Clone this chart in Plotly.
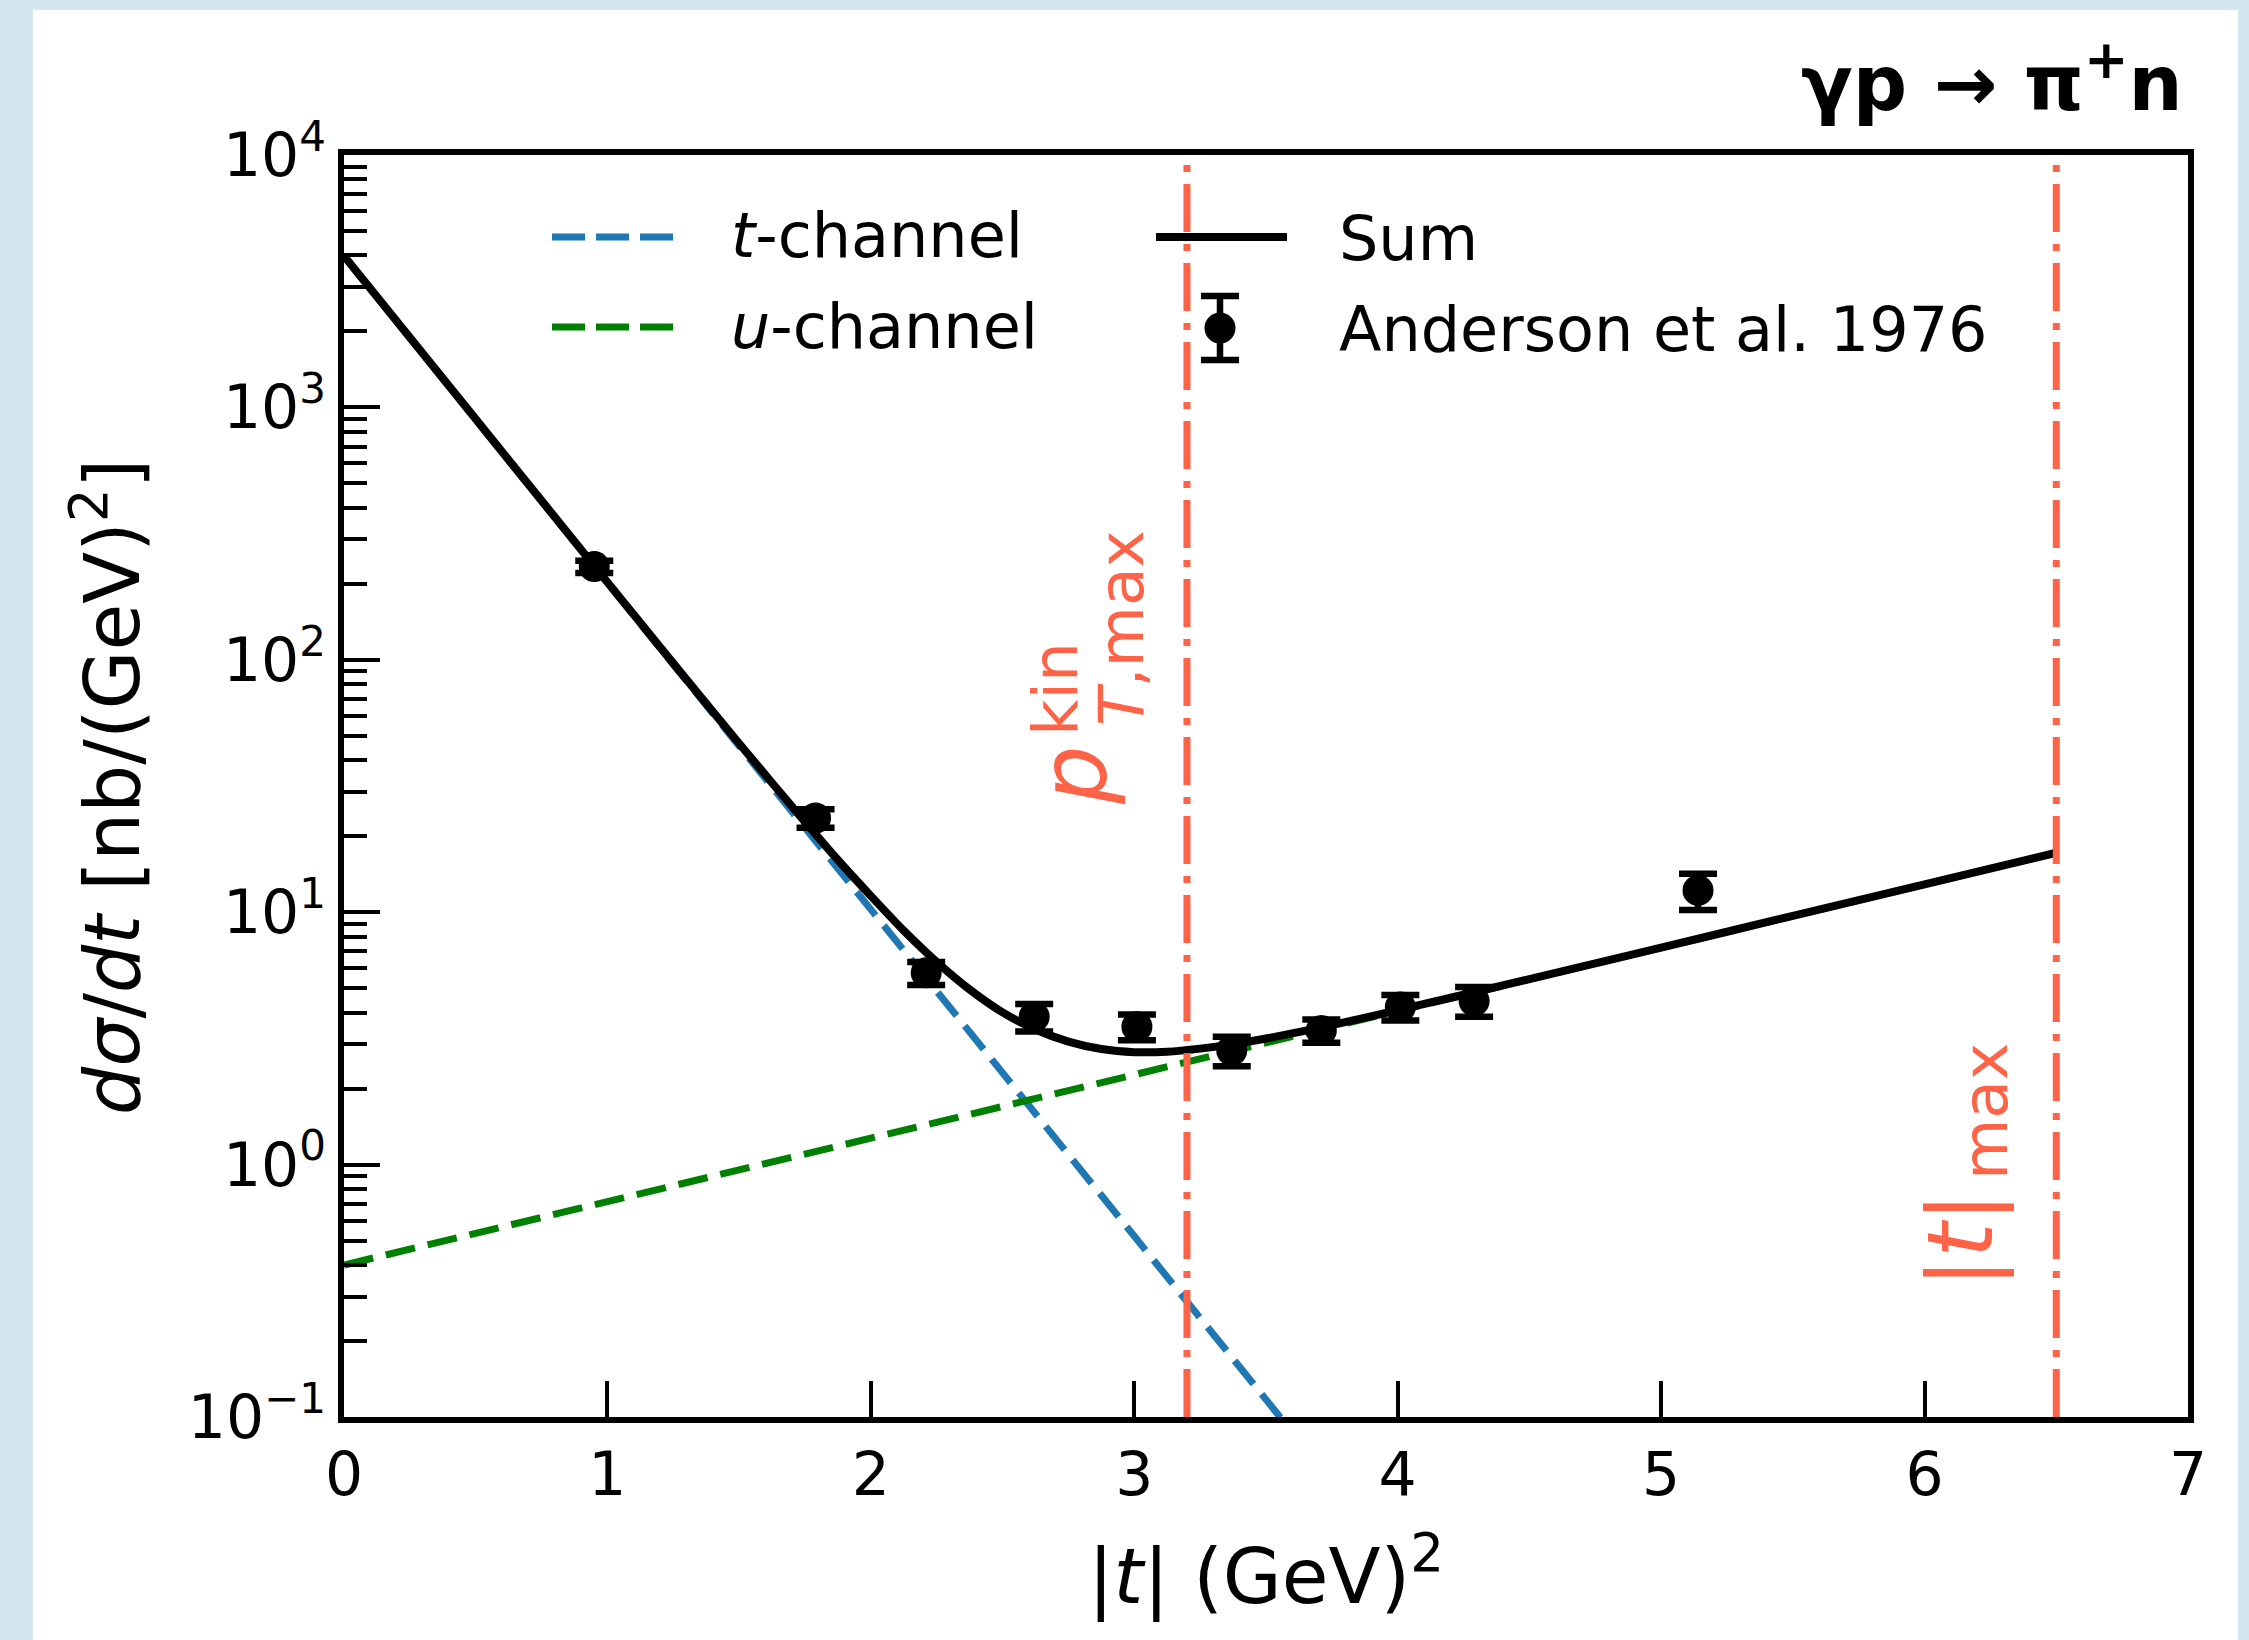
import plotly.graph_objects as go

# ---------------- data ----------------
# Anderson et al. 1976 points
t_data = [0.95, 1.79, 2.21, 2.62, 3.01, 3.37, 3.71, 4.01, 4.29, 5.14]
dsdt_data = [234, 23.6, 5.75, 3.85, 3.52, 2.83, 3.40, 4.21, 4.45, 12.2]
dsdt_err = [13, 2.0, 0.6, 0.48, 0.41, 0.38, 0.36, 0.49, 0.6, 2.0]

# t-channel curve
t_tch = [0, 0.5, 1.0, 1.5, 2.0, 2.5, 3.0, 3.6]
v_tch = [3980, 898, 202, 45.6, 10.3, 2.32, 0.52, 0.087]

# u-channel curve
t_uch = [0, 1, 2, 3, 4, 5, 6, 6.5]
v_uch = [0.40, 0.71, 1.27, 2.27, 4.06, 7.24, 12.9, 17.2]

# Sum curve
t_sum = [0, 0.5, 1.0, 1.25, 1.5, 1.75, 1.875, 2.0, 2.125, 2.25, 2.375, 2.5,
         2.625, 2.75, 2.875, 3.0, 3.125, 3.25, 3.375, 3.5, 3.75, 4.0, 4.5,
         5.0, 5.5, 6.0, 6.5]
v_sum = [3980, 899, 203, 96.8, 46.6, 22.8, 16.1, 11.6, 8.45, 6.35, 4.94, 4.01,
         3.43, 3.07, 2.87, 2.79, 2.80, 2.88, 3.00, 3.16, 3.57, 4.09, 5.43,
         7.24, 9.67, 12.9, 17.2]

# kinematic limits
t_ptmax = 3.2
t_tmax = 6.5

x_tickvals = [0, 1, 2, 3, 4, 5, 6, 7]
y_tickvals = [0.1, 1, 10, 100, 1000, 10000]
y_ticktext = ["10<sup>−1</sup>", "10<sup>0</sup>", "10<sup>1</sup>",
              "10<sup>2</sup>", "10<sup>3</sup>", "10<sup>4</sup>"]
y_minor = [k * 10.0 ** e for e in range(-1, 4) for k in range(2, 10)]

# ---------------- layout geometry ----------------
W, H = 2249, 1640
L, R, T, B = 344, 2188, 155, 1417
FONT = "DejaVu Sans"
TOMATO = "#FF6347"
BLUE = "#1f77b4"
GREEN = "#008000"


def px(X):
    return (X - L) / (R - L)


def py(Y):
    return (B - Y) / (B - T)


fig = go.Figure()

fig.add_trace(go.Scatter(x=t_tch, y=v_tch, mode="lines",
                         line=dict(color=BLUE, width=7, dash="30px,13px"),
                         showlegend=False))
fig.add_trace(go.Scatter(x=t_uch, y=v_uch, mode="lines",
                         line=dict(color=GREEN, width=7, dash="30px,13px"),
                         showlegend=False))
fig.add_trace(go.Scatter(x=t_sum, y=v_sum, mode="lines",
                         line=dict(color="black", width=8, shape="spline",
                                   smoothing=0.8),
                         showlegend=False))
fig.add_trace(go.Scatter(x=t_data, y=dsdt_data, mode="markers",
                         marker=dict(color="black", size=31, line=dict(width=0)),
                         error_y=dict(type="data", array=dsdt_err, color="black",
                                      thickness=6.5, width=19),
                         showlegend=False))

shapes = []
# white panel over light-blue frame
shapes.append(dict(type="rect", xref="paper", yref="paper",
                   x0=px(33), x1=px(2238), y0=py(1640), y1=py(10),
                   fillcolor="white", line=dict(width=0), layer="below"))
# vertical kinematic lines
for v in (t_ptmax, t_tmax):
    shapes.append(dict(type="line", xref="x", yref="paper", x0=v, x1=v,
                       y0=0, y1=1, layer="above",
                       line=dict(color=TOMATO, width=7,
                                 dash="48px,12px,7px,12px")))

# manual legend handles
shapes.append(dict(type="line", xref="paper", yref="paper",
                   x0=px(552), x1=px(677), y0=py(237), y1=py(237),
                   line=dict(color=BLUE, width=7, dash="33px,11px")))
shapes.append(dict(type="line", xref="paper", yref="paper",
                   x0=px(552), x1=px(677), y0=py(327), y1=py(327),
                   line=dict(color=GREEN, width=7, dash="33px,11px")))
shapes.append(dict(type="line", xref="paper", yref="paper",
                   x0=px(1156), x1=px(1287), y0=py(237), y1=py(237),
                   line=dict(color="black", width=8)))
# legend error-bar marker
ex, ey = 1220, 328
shapes.append(dict(type="line", xref="paper", yref="paper",
                   x0=px(ex), x1=px(ex), y0=py(296), y1=py(360),
                   line=dict(color="black", width=6.5)))
for cy in (296, 360):
    shapes.append(dict(type="line", xref="paper", yref="paper",
                       x0=px(ex - 19), x1=px(ex + 19), y0=py(cy), y1=py(cy),
                       line=dict(color="black", width=6.5)))
shapes.append(dict(type="circle", xref="paper", yref="paper",
                   x0=px(ex - 15.5), x1=px(ex + 15.5),
                   y0=py(ey + 15.5), y1=py(ey - 15.5),
                   fillcolor="black", line=dict(width=0)))

annotations = []


def ann(text, X, Y, size, color="black", xanchor="center", yanchor="middle",
        angle=0):
    annotations.append(dict(text=text, xref="paper", yref="paper",
                            x=px(X), y=py(Y), xanchor=xanchor, yanchor=yanchor,
                            showarrow=False, textangle=angle,
                            font=dict(family=FONT, size=size, color=color)))


# title
ann("<b>γp → π<sup>+</sup>n</b>", 2185, 79, 76, xanchor="right")
# axis titles
ann("|<i>t</i>| (GeV)<sup>2</sup>", 1266, 1572, 76)
ann("<i>dσ</i>/<i>dt</i> [nb/(GeV)<sup>2</sup>]", 107, 787, 76, angle=-90)
# legend labels
ann("<i>t</i>-channel", 729, 236, 62, xanchor="left")
ann("<i>u</i>-channel", 729, 326, 62, xanchor="left")
ann("Sum", 1337, 238, 62, xanchor="left")
ann("Anderson et al. 1976", 1337, 329, 62, xanchor="left")
# p_T,max^kin label (rotated)
ann("<i>p</i>", 1074, 776, 92, color=TOMATO, angle=-90)
ann("kin", 1055, 689, 63, color=TOMATO, angle=-90)
ann("<i>T</i>,max", 1121, 628, 63, color=TOMATO, angle=-90)
# |t|_max label (rotated)
ann("|<i>t</i>|", 1961, 1240, 90, color=TOMATO, angle=-90)
ann("max", 1985, 1112, 63, color=TOMATO, angle=-90)

fig.update_layout(
    width=W, height=H,
    margin=dict(l=L, r=W - R, t=T, b=H - B, pad=0),
    paper_bgcolor="#D5E7EE",
    plot_bgcolor="white",
    shapes=shapes,
    annotations=annotations,
    showlegend=False,
    font=dict(family=FONT, color="black"),
)

fig.update_xaxes(
    range=[0, 7], tickmode="array", tickvals=x_tickvals,
    ticks="inside", ticklen=36, tickwidth=4, tickcolor="black",
    showline=True, linewidth=6, linecolor="black", mirror=True,
    showgrid=False, zeroline=False,
    tickfont=dict(family=FONT, size=60, color="black"),
)
fig.update_yaxes(
    type="log", range=[-1, 4], tickmode="array", tickvals=y_tickvals,
    ticktext=y_ticktext,
    ticks="inside", ticklen=36, tickwidth=4, tickcolor="black",
    minor=dict(tickmode="array", tickvals=y_minor, ticks="inside",
               ticklen=23, tickwidth=3.5, tickcolor="black", showgrid=False),
    showline=True, linewidth=6, linecolor="black", mirror=True,
    showgrid=False, zeroline=False,
    tickfont=dict(family=FONT, size=60, color="black"),
)

fig.write_html("out.html")
